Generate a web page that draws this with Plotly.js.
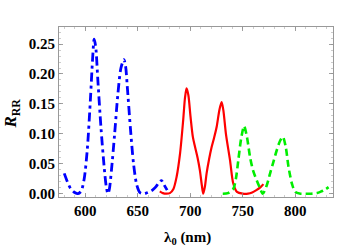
<!DOCTYPE html>
<html>
<head>
<meta charset="utf-8">
<script src="https://cdn.plot.ly/plotly-3.0.1.min.js"></script>
<style>html,body{margin:0;padding:0;background:#fff;}#chart{width:360px;height:247px;}</style>
</head>
<body>
<div id="chart"></div>
<script>
// Blue (dash-dot) series
var blueX = [580, 583, 586, 590, 593, 596, 599, 602, 605, 607, 608.5, 610, 612, 615, 618, 620, 621.6, 623, 625, 628, 631, 634, 636.8, 638.5, 640, 643, 646, 649, 652, 655, 658, 661, 664, 667, 670, 672.6, 675, 678];
var blueY = [0.034, 0.020, 0.009, 0.002, 0.000, 0.004, 0.025, 0.075, 0.160, 0.225, 0.258, 0.245, 0.190, 0.110, 0.045, 0.012, 0.000, 0.008, 0.040, 0.100, 0.165, 0.210, 0.224, 0.212, 0.180, 0.110, 0.050, 0.015, 0.002, 0.000, 0.001, 0.003, 0.006, 0.011, 0.018, 0.022, 0.015, 0.006];
// Red (solid) series
var redX = [671, 674, 677, 680.6, 684, 687, 690.3, 693.3, 695, 696.5, 698.2, 700.2, 702.5, 704.6, 707, 709.2, 711, 712.4, 714, 715.6, 718, 720.4, 722.8, 725.2, 727.8, 729.9, 731.5, 734, 737.9, 741, 744.5, 750, 755, 759, 763, 767, 769.7];
var redY = [0.004, 0.001, 0.000, 0.001, 0.008, 0.028, 0.067, 0.123, 0.160, 0.176, 0.165, 0.130, 0.095, 0.078, 0.060, 0.039, 0.015, 0.000, 0.012, 0.034, 0.058, 0.078, 0.094, 0.112, 0.140, 0.153, 0.140, 0.100, 0.056, 0.017, 0.003, 0.000, 0.000, 0.002, 0.006, 0.011, 0.016];
// Green (dashed) series
var greenX = [731, 736, 741, 743.5, 745.8, 748.5, 751.3, 754, 757, 760, 763.4, 766.5, 769.1, 772.5, 776.1, 779.5, 782.5, 785.5, 788.2, 791, 793.6, 797, 800, 805, 810, 815, 820.7, 825, 828.5, 831.8];
var greenY = [0.000, 0.001, 0.008, 0.025, 0.056, 0.092, 0.113, 0.095, 0.061, 0.038, 0.022, 0.009, 0.000, 0.012, 0.034, 0.055, 0.073, 0.088, 0.095, 0.078, 0.045, 0.016, 0.003, 0.000, 0.000, 0.000, 0.001, 0.004, 0.007, 0.011];

var xTicks = [600, 650, 700, 750, 800];
var yTicks = [0.00, 0.05, 0.10, 0.15, 0.20, 0.25];
var yTickText = ['0.00', '0.05', '0.10', '0.15', '0.20', '0.25'];
var xTitle = 'λ<sub>0</sub> (nm)';
var yTitle = '<i>R</i><sub>RR</sub>';

var traces = [
  {x: blueX, y: blueY, mode: 'lines', line: {color: '#0000ff', width: 2.8, dash: '9px,4px,3px,4px', shape: 'spline', smoothing: 0.8}, hoverinfo: 'skip'},
  {x: redX, y: redY, mode: 'lines', line: {color: '#ff0000', width: 2.2, shape: 'spline', smoothing: 0.8}, hoverinfo: 'skip'},
  {x: greenX, y: greenY, mode: 'lines', line: {color: '#00ee00', width: 2.6, dash: '7px,4px', shape: 'spline', smoothing: 0.8}, hoverinfo: 'skip'}
];

var serif = '"Liberation Serif", "Times New Roman", Times, serif';

var layout = {
  width: 360, height: 247,
  margin: {l: 59, r: 27, t: 27, b: 50, pad: 0},
  paper_bgcolor: '#fff', plot_bgcolor: '#fff',
  showlegend: false,
  font: {family: serif, color: '#000'},
  xaxis: {
    range: [575, 836], tickvals: xTicks, ticktext: xTicks.map(String),
    ticks: 'inside', ticklen: 4, tickwidth: 0.8, tickcolor: '#888',
    minor: {ticks: 'inside', ticklen: 2, tickwidth: 0.6, tickcolor: '#aaa', dtick: 10, tick0: 0},
    showline: true, linecolor: '#999', linewidth: 1, mirror: 'ticks',
    showgrid: false, zeroline: false, automargin: false,
    tickfont: {family: serif, size: 15, color: '#000', weight: 'bold'}
  },
  yaxis: {
    range: [-0.0055, 0.2785], tickvals: yTicks, ticktext: yTickText,
    ticks: 'inside', ticklen: 4, tickwidth: 0.8, tickcolor: '#888',
    minor: {ticks: 'inside', ticklen: 2, tickwidth: 0.6, tickcolor: '#aaa', dtick: 0.01, tick0: 0},
    showline: true, linecolor: '#999', linewidth: 1, mirror: 'ticks',
    showgrid: false, zeroline: false, automargin: false,
    tickfont: {family: serif, size: 15, color: '#000', weight: 'bold'}
  },
  annotations: [
    {text: xTitle, xref: 'paper', yref: 'paper', x: 0.47, y: -0.24, xanchor: 'center', yanchor: 'middle', showarrow: false,
     font: {family: serif, size: 15, color: '#000', weight: 'bold'}},
    {text: yTitle, xref: 'paper', yref: 'paper', x: -0.172, y: 0.49, xanchor: 'center', yanchor: 'middle', showarrow: false, textangle: -90,
     font: {family: serif, size: 17, color: '#000', weight: 'bold'}}
  ]
};

Plotly.newPlot('chart', traces, layout, {staticPlot: true, displayModeBar: false});
</script>
</body>
</html>
